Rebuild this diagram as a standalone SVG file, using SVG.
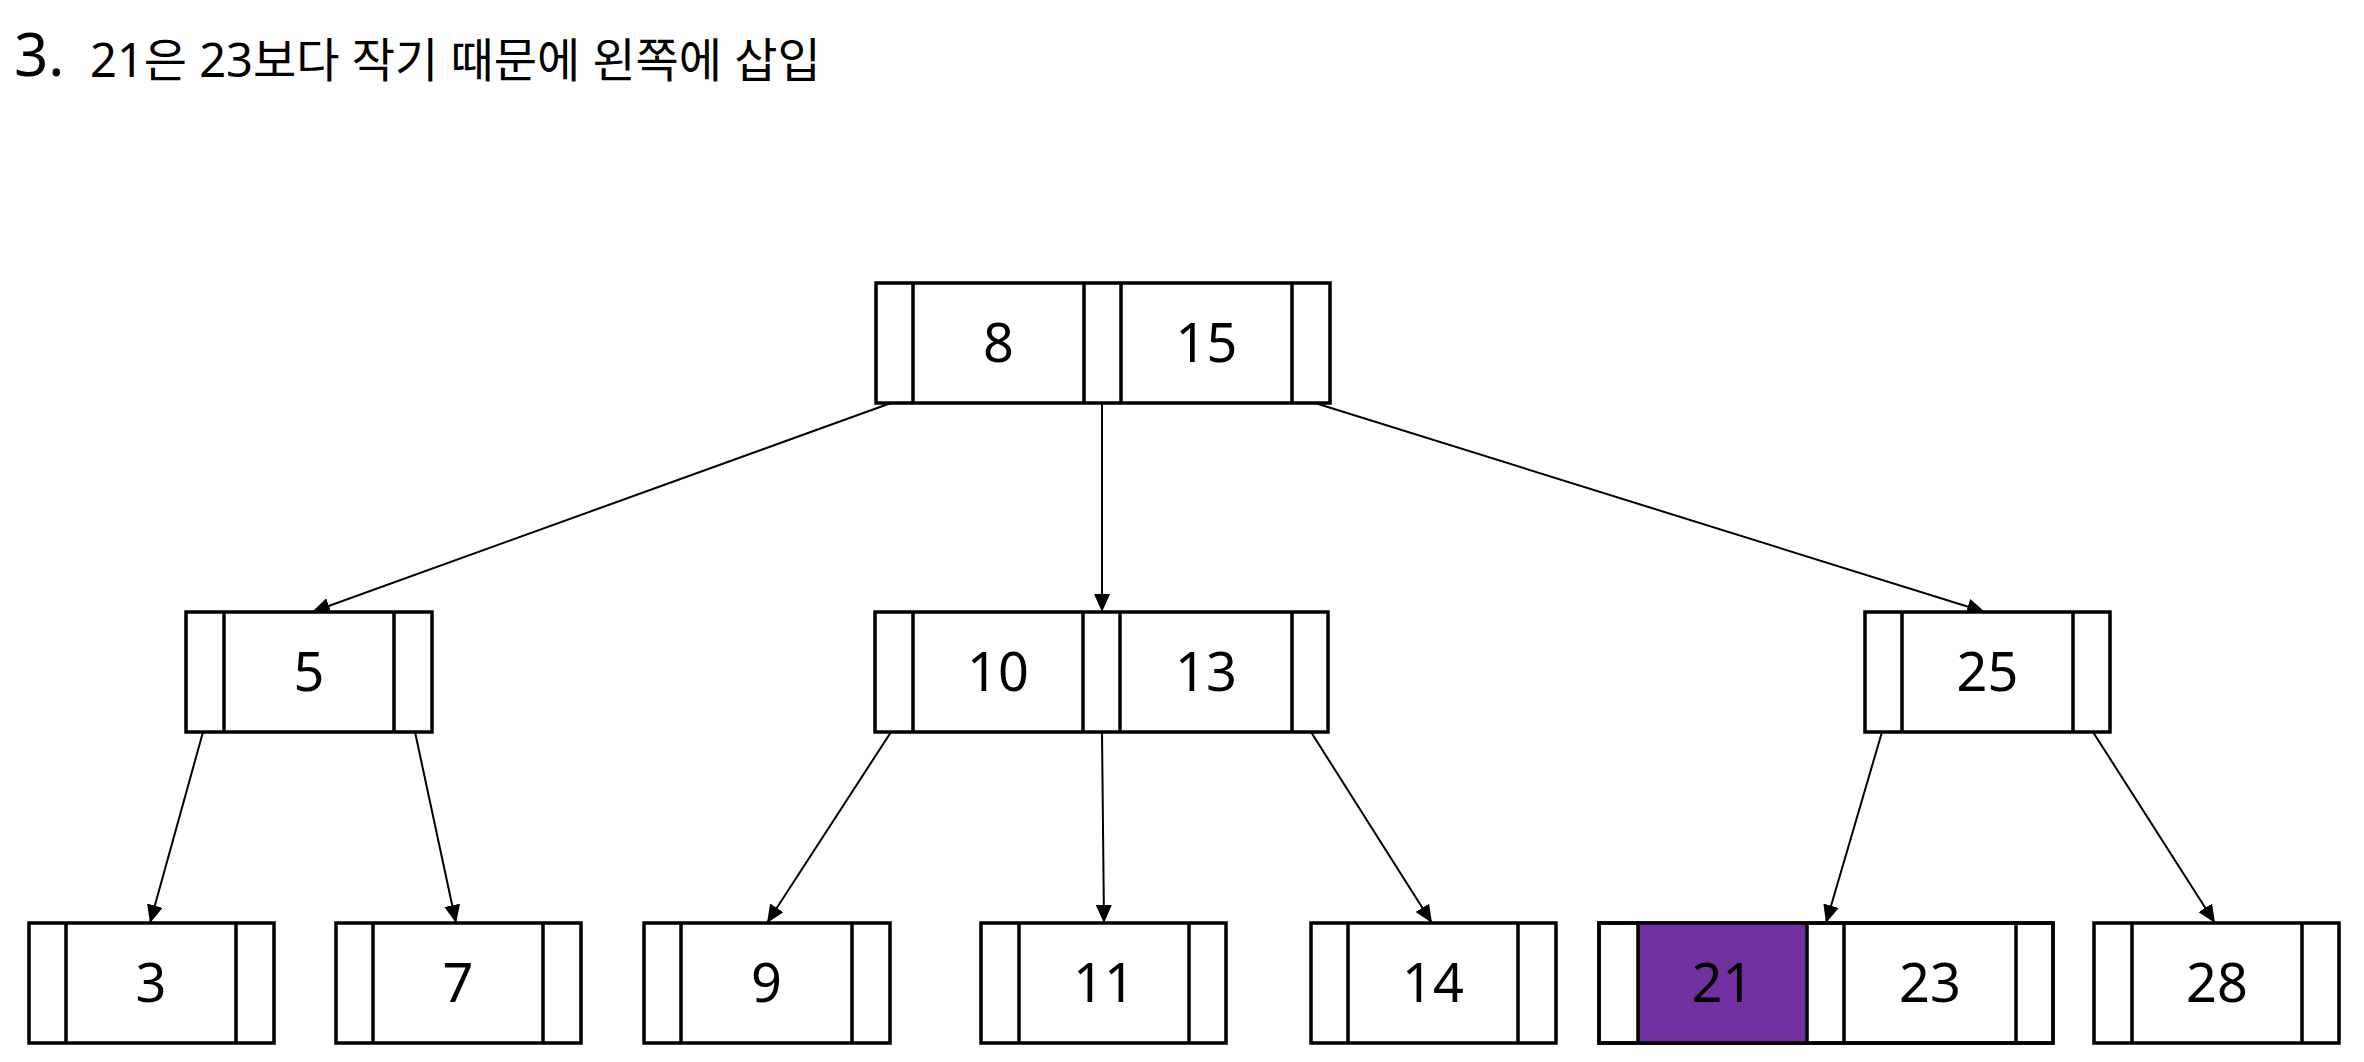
<svg xmlns="http://www.w3.org/2000/svg" width="2364" height="1062" viewBox="0 0 2364 1062">
  <style>
    .box { fill: #ffffff; stroke: #000000; stroke-width: 3.5; }
    .div { stroke: #000000; stroke-width: 3.5; }
    .key { font-family: "Noto Sans", "Open Sans", sans-serif; font-size: 54px; fill: #000000; text-anchor: middle; }
    .hl { fill: #7030A0; stroke: none; }
    .edge { stroke: #000000; stroke-width: 2; fill: none; marker-end: url(#arrow); }
    .title { font-family: "Noto Sans", "Noto Sans CJK KR", sans-serif; fill: #000000; }
  </style>
  <defs>
    <marker id="arrow" markerUnits="userSpaceOnUse" markerWidth="18" markerHeight="16" refX="18" refY="8" orient="auto">
      <path d="M0,0 L18,8 L0,16 z" fill="#000000"/>
    </marker>
  </defs>
  <rect width="2364" height="1062" fill="#ffffff"/>

  <g id="title">
    <text class="title" x="14" y="76" font-size="60">3.</text>
    <text class="title" x="90" y="77" font-size="47">21은 23보다 작기 때문에 왼쪽에 삽입</text>
  </g>

  <g id="connectors">
    <line class="edge" x1="891" y1="403" x2="312" y2="612"/>
    <line class="edge" x1="1102" y1="403" x2="1102" y2="612"/>
    <line class="edge" x1="1315" y1="403" x2="1985" y2="612"/>
    <line class="edge" x1="203" y1="732" x2="150" y2="923"/>
    <line class="edge" x1="415" y1="732" x2="456" y2="923"/>
    <line class="edge" x1="891" y1="732" x2="767" y2="923"/>
    <line class="edge" x1="1102" y1="732" x2="1104" y2="923"/>
    <line class="edge" x1="1311" y1="732" x2="1432" y2="923"/>
    <line class="edge" x1="1882" y1="732" x2="1826" y2="923"/>
    <line class="edge" x1="2093" y1="732" x2="2215" y2="923"/>
  </g>

  <g id="node-8-15">
    <rect class="box" x="876" y="283" width="454" height="120"/>
    <line class="div" x1="913" y1="283" x2="913" y2="403"/>
    <line class="div" x1="1084" y1="283" x2="1084" y2="403"/>
    <line class="div" x1="1121" y1="283" x2="1121" y2="403"/>
    <line class="div" x1="1292" y1="283" x2="1292" y2="403"/>
    <text class="key" x="998.5" y="362">8</text>
    <text class="key" x="1206.5" y="362">15</text>
  </g>

  <g id="node-5">
    <rect class="box" x="186" y="612" width="246" height="120"/>
    <line class="div" x1="224" y1="612" x2="224" y2="732"/>
    <line class="div" x1="394" y1="612" x2="394" y2="732"/>
    <text class="key" x="309" y="691">5</text>
  </g>

  <g id="node-10-13">
    <rect class="box" x="875" y="612" width="453" height="120"/>
    <line class="div" x1="913" y1="612" x2="913" y2="732"/>
    <line class="div" x1="1083" y1="612" x2="1083" y2="732"/>
    <line class="div" x1="1120" y1="612" x2="1120" y2="732"/>
    <line class="div" x1="1292" y1="612" x2="1292" y2="732"/>
    <text class="key" x="998" y="691">10</text>
    <text class="key" x="1206" y="691">13</text>
  </g>

  <g id="node-25">
    <rect class="box" x="1865" y="612" width="245" height="120"/>
    <line class="div" x1="1902" y1="612" x2="1902" y2="732"/>
    <line class="div" x1="2073" y1="612" x2="2073" y2="732"/>
    <text class="key" x="1987.5" y="691">25</text>
  </g>

  <g id="node-3">
    <rect class="box" x="29" y="923" width="245" height="120"/>
    <line class="div" x1="66" y1="923" x2="66" y2="1043"/>
    <line class="div" x1="236" y1="923" x2="236" y2="1043"/>
    <text class="key" x="151" y="1002">3</text>
  </g>

  <g id="node-7">
    <rect class="box" x="336" y="923" width="245" height="120"/>
    <line class="div" x1="373" y1="923" x2="373" y2="1043"/>
    <line class="div" x1="543" y1="923" x2="543" y2="1043"/>
    <text class="key" x="458" y="1002">7</text>
  </g>

  <g id="node-9">
    <rect class="box" x="644" y="923" width="246" height="120"/>
    <line class="div" x1="681" y1="923" x2="681" y2="1043"/>
    <line class="div" x1="852" y1="923" x2="852" y2="1043"/>
    <text class="key" x="766.5" y="1002">9</text>
  </g>

  <g id="node-11">
    <rect class="box" x="981" y="923" width="245" height="120"/>
    <line class="div" x1="1019" y1="923" x2="1019" y2="1043"/>
    <line class="div" x1="1189" y1="923" x2="1189" y2="1043"/>
    <text class="key" x="1104" y="1002">11</text>
  </g>

  <g id="node-14">
    <rect class="box" x="1311" y="923" width="245" height="120"/>
    <line class="div" x1="1348" y1="923" x2="1348" y2="1043"/>
    <line class="div" x1="1518" y1="923" x2="1518" y2="1043"/>
    <text class="key" x="1433" y="1002">14</text>
  </g>

  <g id="node-21-23">
    <rect class="box" x="1599" y="923" width="454" height="120"/>
    <rect class="hl" x="1638" y="923" width="169" height="120"/>
    <rect x="1599" y="923" width="454" height="120" fill="none" stroke="#000000" stroke-width="3.5"/>
    <line class="div" x1="1638" y1="923" x2="1638" y2="1043"/>
    <line class="div" x1="1807" y1="923" x2="1807" y2="1043"/>
    <line class="div" x1="1844" y1="923" x2="1844" y2="1043"/>
    <line class="div" x1="2016" y1="923" x2="2016" y2="1043"/>
    <text class="key" x="1722.5" y="1002">21</text>
    <text class="key" x="1930" y="1002">23</text>
  </g>

  <g id="node-28">
    <rect class="box" x="2094" y="923" width="245" height="120"/>
    <line class="div" x1="2132" y1="923" x2="2132" y2="1043"/>
    <line class="div" x1="2302" y1="923" x2="2302" y2="1043"/>
    <text class="key" x="2217" y="1002">28</text>
  </g>
</svg>
